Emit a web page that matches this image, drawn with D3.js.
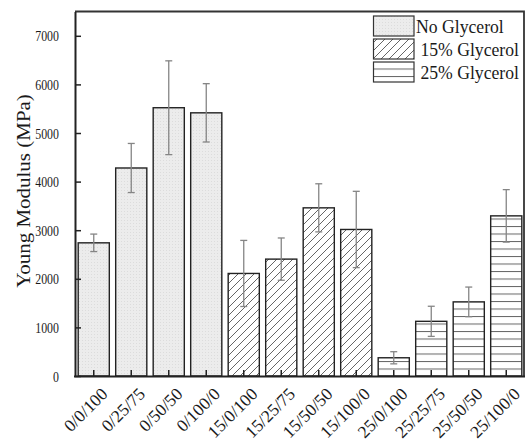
<!DOCTYPE html>
<html>
<head>
<meta charset="utf-8">
<script src="https://cdn.jsdelivr.net/npm/d3@7"></script>
<style>
  html, body { margin: 0; padding: 0; background: #fff; }
  svg { display: block; }
</style>
</head>
<body>
<svg id="chart" width="525" height="441" font-family="Liberation Serif, serif"></svg>
<script>
// Sample codes: glycerol / additive A / additive B
const categories = ["0/0/100", "0/25/75", "0/50/50", "0/100/0",
                    "15/0/100", "15/25/75", "15/50/50", "15/100/0",
                    "25/0/100", "25/25/75", "25/50/50", "25/100/0"];
// Glycerol group of each sample
const groups = ["none", "none", "none", "none",
                "g15", "g15", "g15", "g15",
                "g25", "g25", "g25", "g25"];
// Young modulus (MPa) and standard deviation
const modulus = [2740, 4280, 5520, 5415, 2110, 2405, 3460, 3015, 375, 1125, 1525, 3295];
const stdev   = [180, 505, 965, 600, 680, 435, 495, 785, 125, 310, 305, 540];
const yTicks = [0, 1000, 2000, 3000, 4000, 5000, 6000, 7000];
const legendLabels = ["No Glycerol", " 15% Glycerol", " 25% Glycerol"];
const legendGroups = ["none", "g15", "g25"];

const FONT = "Liberation Serif, serif";
const INK = "#1a1a1a";

const svg = d3.select("#chart");
const plotLeft = 75, plotRight = 524, plotTop = 11.5, plotBottom = 376;

const x = d3.scaleBand().domain(categories).range([plotLeft, plotRight + 1]).paddingInner(0.17).paddingOuter(0.085);
const y = d3.scaleLinear().domain([0, 7500]).range([plotBottom, plotTop]);

// Fill patterns
const defs = svg.append("defs");
const pNone = defs.append("pattern").attr("id", "p-none")
  .attr("patternUnits", "userSpaceOnUse").attr("width", 3).attr("height", 3);
pNone.append("rect").attr("width", 3).attr("height", 3).attr("fill", "#ececec");
pNone.append("rect").attr("x", 1).attr("y", 1).attr("width", 1).attr("height", 1).attr("fill", "#dcdcdc");

const pHatch = defs.append("pattern").attr("id", "p-g15")
  .attr("patternUnits", "userSpaceOnUse").attr("width", 8).attr("height", 8);
pHatch.append("rect").attr("width", 8).attr("height", 8).attr("fill", "#fff");
pHatch.append("path").attr("d", "M-2,10 L10,-2 M-2,2 L2,-2 M6,10 L10,6")
  .attr("stroke", "#555").attr("stroke-width", 0.9);

const pLines = defs.append("pattern").attr("id", "p-g25")
  .attr("patternUnits", "userSpaceOnUse").attr("width", 8).attr("height", 7.5)
  .attr("y", plotBottom);
pLines.append("rect").attr("width", 8).attr("height", 7.5).attr("fill", "#fff");
pLines.append("line").attr("x1", 0).attr("x2", 8).attr("y1", 0.5).attr("y2", 0.5)
  .attr("stroke", "#666").attr("stroke-width", 1);

const fillOf = g => `url(#p-${g})`;

// Bars
svg.append("g").selectAll("rect").data(categories).join("rect")
  .attr("x", d => x(d))
  .attr("y", (d, i) => y(modulus[i]))
  .attr("width", x.bandwidth())
  .attr("height", (d, i) => y(0) - y(modulus[i]))
  .attr("fill", (d, i) => fillOf(groups[i]))
  .attr("stroke", "#222").attr("stroke-width", 1.4);

// Error bars
const eb = svg.append("g").attr("stroke", "#858585").attr("stroke-width", 1.3);
categories.forEach((c, i) => {
  const cx = x(c) + x.bandwidth() / 2;
  const hi = y(modulus[i] + stdev[i]), lo = y(modulus[i] - stdev[i]);
  eb.append("line").attr("x1", cx).attr("x2", cx).attr("y1", hi).attr("y2", lo);
  eb.append("line").attr("x1", cx - 3.5).attr("x2", cx + 3.5).attr("y1", hi).attr("y2", hi);
  eb.append("line").attr("x1", cx - 3.5).attr("x2", cx + 3.5).attr("y1", lo).attr("y2", lo);
});

// Frame (top and right)
svg.append("path")
  .attr("d", `M${plotLeft},${plotTop} L${plotRight},${plotTop} L${plotRight},${plotBottom}`)
  .attr("fill", "none").attr("stroke", "#333").attr("stroke-width", 1.8);

// Y axis with inward ticks
const yAxis = svg.append("g").attr("transform", `translate(${plotLeft},0)`)
  .call(d3.axisLeft(y).tickValues(yTicks).tickSizeInner(-6).tickSizeOuter(0).tickPadding(0).tickFormat(d3.format("d")))
  .attr("font-family", FONT);
yAxis.select(".domain").attr("stroke", "#222").attr("stroke-width", 2);
yAxis.selectAll(".tick line").attr("stroke", "#222").attr("stroke-width", 1.5);
yAxis.selectAll(".tick text")
  .attr("x", 0).attr("dy", null).attr("fill", INK)
  .attr("transform", "translate(-16,5) scale(0.82,1)")
  .attr("font-size", 14.5).attr("text-anchor", "end");

// X axis with inward ticks and slanted labels
const xAxis = svg.append("g").attr("transform", `translate(0,${plotBottom})`)
  .call(d3.axisBottom(x).tickSizeInner(-6).tickSizeOuter(0))
  .attr("font-family", FONT);
xAxis.select(".domain").attr("stroke", "#222").attr("stroke-width", 2)
  .attr("d", `M${plotLeft - 1},0.5H${plotRight + 1}`);
xAxis.selectAll(".tick line").attr("stroke", "#222").attr("stroke-width", 1.5);
xAxis.selectAll(".tick text")
  .attr("y", 0).attr("dy", null).attr("fill", INK)
  .attr("font-size", 17.5)
  .attr("text-anchor", "end")
  .attr("transform", "translate(15,19) rotate(-45)");

// Y axis title
svg.append("text")
  .attr("transform", "translate(30,191) rotate(-90) scale(1,0.85)")
  .attr("text-anchor", "middle")
  .attr("font-family", FONT).attr("fill", INK)
  .attr("font-size", 21)
  .text("Young Modulus (MPa)");

// Legend
const lg = svg.append("g").attr("font-family", FONT);
legendLabels.forEach((lab, i) => {
  const yy = 16 + i * 23;
  lg.append("rect").attr("x", 373.5).attr("y", yy).attr("width", 40.5).attr("height", 20)
    .attr("fill", fillOf(legendGroups[i])).attr("stroke", "#333").attr("stroke-width", 1.2);
  lg.append("text").attr("transform", `translate(416,${yy + 17}) scale(0.93,1)`)
    .attr("fill", INK).attr("font-size", 19)
    .attr("xml:space", "preserve").style("white-space", "pre").text(lab);
});
</script>
</body>
</html>
